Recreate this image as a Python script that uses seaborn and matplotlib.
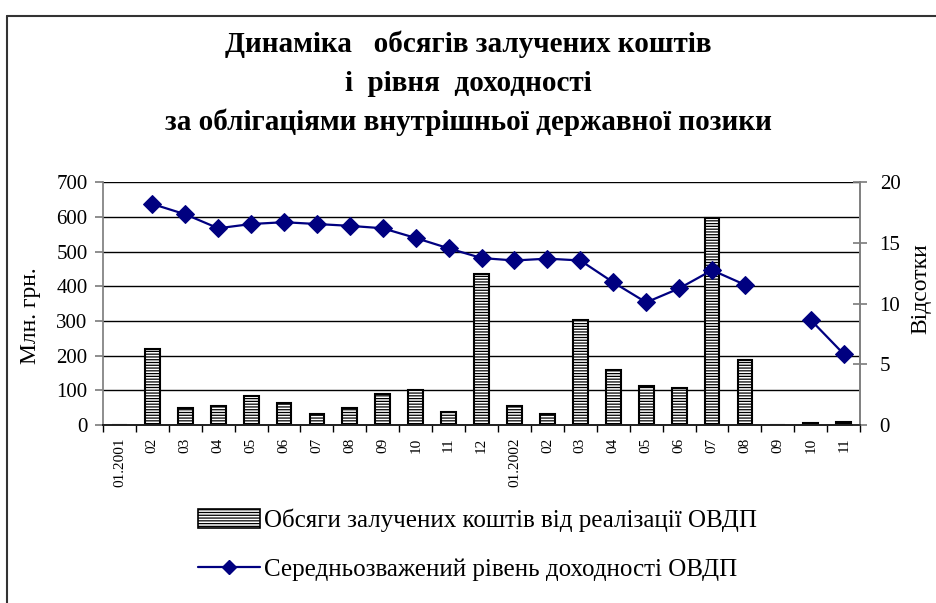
import matplotlib
matplotlib.use("Agg")
import matplotlib.pyplot as plt
from matplotlib.lines import Line2D
from matplotlib.patches import Patch
from matplotlib.ticker import MultipleLocator
import seaborn as sns
import numpy as np
import pandas as pd

# Дані
months = ["01.2001", "02.2001", "03.2001", "04.2001", "05.2001", "06.2001",
          "07.2001", "08.2001", "09.2001", "10.2001", "11.2001", "12.2001",
          "01.2002", "02.2002", "03.2002", "04.2002", "05.2002", "06.2002",
          "07.2002", "08.2002", "09.2002", "10.2002", "11.2002"]
tick_labels = ["01.2001", "02", "03", "04", "05", "06", "07", "08", "09", "10",
               "11", "12", "01.2002", "02", "03", "04", "05", "06", "07", "08",
               "09", "10", "11"]
volumes = [0, 220, 49, 54, 84, 65, 33, 49, 90, 101, 38, 435,
           55, 32, 304, 158, 112, 106, 597, 188, 0, 7, 8]
yields = [np.nan, 18.2, 17.35, 16.2, 16.55, 16.7, 16.55, 16.4, 16.2, 15.4, 14.55, 13.75,
          13.55, 13.7, 13.55, 11.75, 10.1, 11.25, 12.75, 11.55, np.nan, 8.65, 5.85]

title = ("Динаміка   обсягів залучених коштів\n"
         "і  рівня  доходності\n"
         "за облігаціями внутрішньої державної позики")
bar_label = "Обсяги залучених коштів від реалізації ОВДП"
line_label = "Середньозважений рівень доходності ОВДП"

df = pd.DataFrame({"month": months, "volume": volumes, "yield": yields})
df["pos"] = np.arange(len(df))

sns.set_theme(style="white")
plt.rcParams["font.family"] = ["Liberation Serif", "DejaVu Serif"]
plt.rcParams["hatch.linewidth"] = 0.9
plt.rcParams["text.color"] = "black"
plt.rcParams["axes.labelcolor"] = "black"
plt.rcParams["xtick.color"] = "black"
plt.rcParams["ytick.color"] = "black"

fig = plt.figure(figsize=(9.36, 6.03), dpi=100)
ax = fig.add_axes([0.110, 0.295, 0.809, 0.403])

# Стовпці
sns.barplot(data=df, x="month", y="volume", order=months, ax=ax,
            width=0.45, color="white", edgecolor="black", linewidth=1.5,
            zorder=3)
for p in ax.patches:
    p.set_hatch("------")
    p.set_facecolor("white")
    p.set_edgecolor("black")

ax.set_ylim(0, 700)
ax.set_xlim(-0.5, len(months) - 0.5)
ax.yaxis.set_major_locator(MultipleLocator(100))
ax.grid(axis="y", color="black", linewidth=1.0, zorder=0)
ax.set_axisbelow(True)
ax.set_xlabel("")
ax.set_ylabel("Млн. грн.", fontsize=17)
ax.yaxis.set_label_coords(-0.082, 0.45)
ax.tick_params(axis="y", labelsize=15, length=6, direction="out",
               color="gray", labelcolor="black", left=True, pad=5)
ax.set_xticks(range(len(months)))
ax.set_xticklabels(tick_labels, rotation=90, fontsize=11)
ax.tick_params(axis="x", length=0, pad=9, labelcolor="black")
ax.set_xticks(np.arange(-0.5, len(months)), minor=True)
ax.tick_params(axis="x", which="minor", length=5, direction="out",
               color="black", bottom=True)
ax.spines["top"].set_visible(False)
ax.spines["left"].set_color("gray")
ax.spines["right"].set_color("gray")
ax.spines["bottom"].set_color("black")

# Лінія дохідності
ax2 = ax.twinx()
seg = df["yield"].isna().cumsum()
for _, part in df[df["yield"].notna()].groupby(seg[df["yield"].notna()]):
    sns.lineplot(data=part, x="pos", y="yield", ax=ax2, color="#000080",
                 marker="D", markersize=9, markeredgecolor="#000080",
                 linewidth=1.6, legend=False)
ax2.set_ylim(0, 20)
ax2.yaxis.set_major_locator(MultipleLocator(5))
ax2.set_ylabel("Відсотки", fontsize=17)
ax2.yaxis.set_label_coords(1.066, 0.56)
ax2.tick_params(axis="y", labelsize=15, length=10, direction="inout",
                color="gray", labelcolor="black", right=True, pad=9)
ax2.spines["top"].set_visible(False)
ax2.spines["right"].set_color("gray")
ax2.spines["left"].set_visible(False)
ax2.set_xlim(-0.5, len(months) - 0.5)
ax2.set_xlabel("")

fig.text(0.5, 0.862, title, ha="center", va="center", fontsize=21,
         fontweight="bold", linespacing=1.55)

# Легенда
handles = [Patch(facecolor="white", edgecolor="black", hatch="------",
                 linewidth=1.2),
           Line2D([0], [0], color="#000080", marker="D", markersize=7,
                  linewidth=1.6)]
fig.legend(handles, [bar_label, line_label], loc="center",
           bbox_to_anchor=(0.51, 0.096), frameon=False, fontsize=18,
           handlelength=2.5, handleheight=0.75, handletextpad=0.15,
           labelspacing=1.05)

# Рамка
fig.add_artist(Line2D([0.0075, 1.0], [1 - 16 / 603, 1 - 16 / 603],
                      color="#333333", linewidth=1.5, transform=fig.transFigure))
fig.add_artist(Line2D([0.0075, 0.0075], [0, 1 - 16 / 603],
                      color="#333333", linewidth=1.5, transform=fig.transFigure))

fig.savefig("out.png", dpi=100)
